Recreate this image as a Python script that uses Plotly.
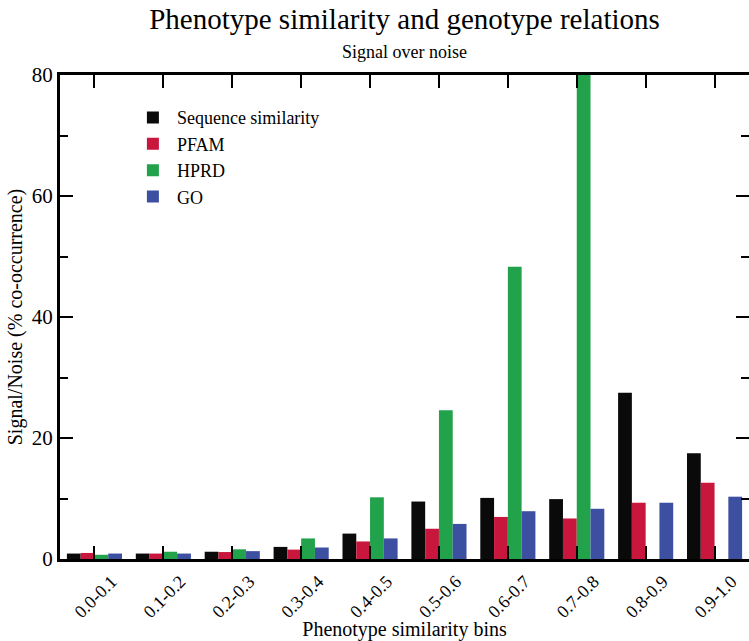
import plotly.graph_objects as go

# Phenotype similarity bins and signal/noise per genotype relation
bins = ["0.0-0.1", "0.1-0.2", "0.2-0.3", "0.3-0.4", "0.4-0.5",
        "0.5-0.6", "0.6-0.7", "0.7-0.8", "0.8-0.9", "0.9-1.0"]
seq_sim = [0.9, 0.9, 1.2, 2.0, 4.2, 9.5, 10.1, 9.9, 27.5, 17.5]
pfam = [1.0, 0.9, 1.15, 1.55, 2.9, 5.0, 6.95, 6.7, 9.3, 12.6]
hprd = [0.7, 1.2, 1.6, 3.4, 10.2, 24.6, 48.3, 80.0, 0, 0]
go_terms = [0.9, 0.9, 1.3, 1.9, 3.4, 5.8, 7.9, 8.3, 9.3, 10.3]

series = [
    ("Sequence similarity", seq_sim, "#0a0a0a"),
    ("PFAM", pfam, "#c8163c"),
    ("HPRD", hprd, "#22a24a"),
    ("GO", go_terms, "#3d4fa1"),
]

FONT = "Liberation Serif"

fig = go.Figure()
for name, vals, color in series:
    fig.add_trace(go.Bar(x=bins, y=vals, name=name, marker=dict(color=color, line=dict(width=0))))

fig.update_layout(
    width=749, height=641,
    margin=dict(l=60, r=0, t=75, b=82),
    paper_bgcolor="white", plot_bgcolor="white",
    barmode="group", bargap=0.2, bargroupgap=0,
    font=dict(family=FONT, color="black", size=18),
    title=dict(text="Phenotype similarity and genotype relations",
               font=dict(family=FONT, size=29, color="black"),
               xref="paper", x=0.5, xanchor="center",
               yref="container", y=1 - 19 / 641, yanchor="middle"),
    legend=dict(x=0.10, y=0.95, xanchor="left", yanchor="top",
                bgcolor="rgba(0,0,0,0)", font=dict(family=FONT, size=18),
                tracegroupgap=0, itemwidth=38),
    showlegend=True,
)

fig.add_annotation(text="Signal over noise", xref="paper", yref="paper",
                   x=0.5, y=1 + 23 / 484, xanchor="center", yanchor="middle",
                   showarrow=False, font=dict(family=FONT, size=18, color="black"))

fig.update_xaxes(
    range=[-0.5, 9.5], showline=True, linecolor="black", linewidth=3,
    mirror="ticks", ticks="inside", ticklen=13, tickwidth=2, tickcolor="black",
    tickangle=-45, ticklabelshift=17, ticklabelstandoff=2,
    tickfont=dict(family=FONT, size=18),
    title=dict(text="Phenotype similarity bins", font=dict(family=FONT, size=20), standoff=0),
    showgrid=False, zeroline=False,
)
fig.update_yaxes(
    range=[0, 80], tickvals=[0, 20, 40, 60, 80], showline=True, linecolor="black", linewidth=3,
    ticks="inside", ticklen=13, tickwidth=2, tickcolor="black",
    minor=dict(ticks="inside", ticklen=8, tickwidth=2, tickcolor="black", dtick=10, showgrid=False),
    tickfont=dict(family=FONT, size=21),
    title=dict(text="Signal/Noise (% co-occurrence)", font=dict(family=FONT, size=20), standoff=4),
    showgrid=False, zeroline=False,
)

# Right-hand tick marks (the frame's right edge sits at the page border)
fig.add_trace(go.Scatter(x=[None], y=[None], yaxis="y2", showlegend=False, hoverinfo="skip"))
fig.update_layout(yaxis2=dict(
    overlaying="y", side="right", range=[0, 80], tickvals=[0, 20, 40, 60, 80],
    showticklabels=False, showline=False, ticks="inside", ticklen=13, tickwidth=2,
    tickcolor="black", showgrid=False, zeroline=False,
    minor=dict(ticks="inside", ticklen=8, tickwidth=2, tickcolor="black", dtick=10, showgrid=False),
))

fig.write_html("out.html")
